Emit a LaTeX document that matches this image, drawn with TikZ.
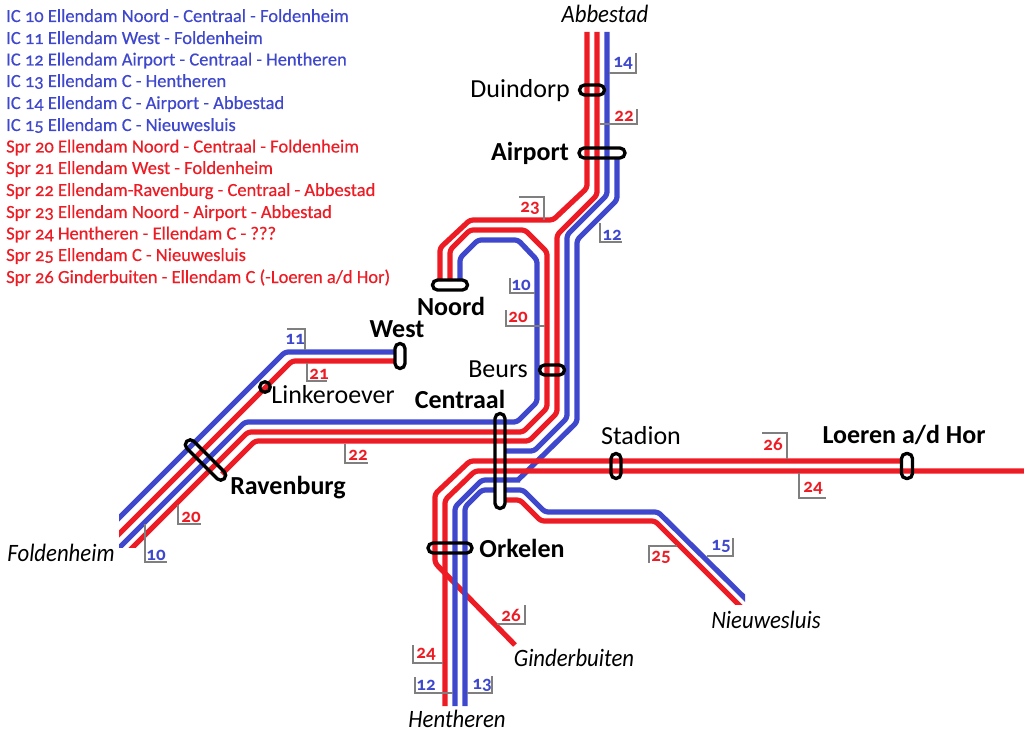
\documentclass[tikz,border=0pt]{standalone}
\usepackage{fontspec}
\setmainfont[Numbers=OldStyle]{Carlito}
\newfontfamily\legfont[Numbers=OldStyle,FakeBold=0.45]{Carlito}
\definecolor{rd}{RGB}{237,28,36}
\definecolor{bl}{RGB}{63,72,204}
\definecolor{gr}{RGB}{127,127,127}
\newcommand\itl[1]{\scalebox{0.91}[1]{#1}}
\tikzset{
 rl/.style={draw=rd,line width=5.2pt,line join=round,rounded corners=3pt},
 bll/.style={draw=bl,line width=5.2pt,line join=round,rounded corners=3pt},
 lead/.style={draw=gr,line width=1.4pt},
 sta/.style={draw=black,line width=3.3pt,rounded corners=5pt,fill=none},
 numr/.style={text=rd,font=\bfseries\fontsize{19}{19}\selectfont,inner sep=0pt},
 numb/.style={text=bl,font=\bfseries\fontsize{19}{19}\selectfont,inner sep=0pt},
 lab/.style={font=\fontsize{26}{26}\selectfont,inner sep=0pt,text=black},
 blab/.style={font=\bfseries\fontsize{26}{26}\selectfont,inner sep=0pt,text=black},
 ilab/.style={font=\itshape\fontsize{25}{25}\selectfont,inner sep=0pt,text=black},
 legb/.style={text=bl,font=\legfont\fontsize{18.5}{18}\selectfont,anchor=base west,inner sep=0pt},
 legr/.style={text=rd,font=\legfont\fontsize{18.5}{18}\selectfont,anchor=base west,inner sep=0pt},
}
\begin{document}
\begin{tikzpicture}[x=1pt,y=-1pt]
\useasboundingbox (0,0) rectangle (1024,735);
% lines towards Foldenheim, cut square by the clip
\begin{scope}
\clip (119,0) rectangle (1024,547);
\path[bll] (394,352) -- (285,352) -- (100,537);
\path[rl] (394,361) -- (292,361) -- (100,553);
\path[bll] (460,281) -- (460,258) -- (478,240) -- (518,240) -- (537,260) -- (537,402) -- (517,422) -- (245,422) -- (100,567);
\path[rl] (450,281) -- (450,250) -- (470,230) -- (525,230) -- (547,252) -- (547,408) -- (523,432) -- (248,432) -- (100,580);
\path[rl] (597,32) -- (597,195) -- (557,235) -- (557,413) -- (529,441) -- (255,441) -- (222,474);
\end{scope}
\path[rl] (587,32) -- (587,188) -- (553,220) -- (470,220) -- (440,248) -- (440,281);
\path[bll] (607,32) -- (607,195) -- (567,235) -- (567,418) -- (534,451) -- (506,451);
\path[bll] (617,158) -- (617,200) -- (577,240) -- (577,422) -- (518,480);
\path[rl] (902,461) -- (470,461) -- (435,494) -- (435,563) -- (515,645);
\path[rl] (1024,471) -- (475,471) -- (445,500) -- (445,706);
\path[bll] (520,480) -- (482,480) -- (455,507) -- (455,706);
\path[bll] (494,490) -- (482,490) -- (465,507) -- (465,706);
\begin{scope}
\clip (0,0) rectangle (745,735);
\path[bll] (760,613) -- (658,512) -- (545,512) -- (523,490) -- (506,490);
\end{scope}
\begin{scope}
\clip (0,0) rectangle (1024,604);
\path[rl] (506,500) -- (520,500) -- (541,521) -- (655,521) -- (750,616);
\end{scope}
% leaders
\draw[lead] (609,73) -- (636,73) -- (636,53);
\draw[lead] (600,124) -- (637,124) -- (637,109);
\draw[lead] (519,197) -- (544,197) -- (544,220);
\draw[lead] (600,223) -- (600,242) -- (622,242);
\draw[lead] (510,278) -- (510,293) -- (535,293);
\draw[lead] (506,310) -- (506,326) -- (545,326);
\draw[lead] (287,329) -- (305,329) -- (305,350);
\draw[lead] (307,363) -- (307,381) -- (327,381);
\draw[lead] (345,444) -- (345,463) -- (368,463);
\draw[lead] (178,505) -- (178,524) -- (201,524);
\draw[lead] (145,524) -- (145,562) -- (167,562);
\draw[lead] (762,433) -- (787,433) -- (787,459);
\draw[lead] (799,473) -- (799,498) -- (826,498);
\draw[lead] (677,546) -- (649,546) -- (649,563);
\draw[lead] (707,556) -- (733,556) -- (733,538);
\draw[lead] (497,624) -- (525,624) -- (525,605);
\draw[lead] (413,645) -- (413,663) -- (443,663);
\draw[lead] (415,677) -- (415,693) -- (453,693);
\draw[lead] (467,693) -- (492,693) -- (492,676);
% numbers
\node[numb] (n14) at (623,63) {14};
\node[numr] (n22a) at (624,116) {22};
\node[numr] (n23) at (530,208) {23};
\node[numb] (n12a) at (612,235) {12};
\node[numb] (n10a) at (521,285) {10};
\node[numr] (n20a) at (518,317) {20};
\node[numb] (n11) at (295,339) {11};
\node[numr] (n21) at (319,374) {21};
\node[numr] (n22b) at (358,455) {22};
\node[numr] (n20b) at (191,517) {20};
\node[numb] (n10b) at (156,555) {10};
\node[numr] (n26a) at (773,444) {26};
\node[numr] (n24a) at (813,488) {24};
\node[numr] (n25) at (661,557) {25};
\node[numb] (n15) at (721,546) {15};
\node[numr] (n26b) at (511,615) {26};
\node[numr] (n24b) at (426,654) {24};
\node[numb] (n12b) at (426,685) {12};
\node[numb] (n13) at (482,685) {13};
% stations
\node[sta,minimum width=25pt,minimum height=10pt] (sDuin) at (592,90) {};
\node[sta,minimum width=46pt,minimum height=10pt] (sAir) at (602,153) {};
\node[sta,minimum width=35pt,minimum height=10pt] (sNoord) at (450,285) {};
\node[sta,minimum width=25pt,minimum height=10pt] (sBeurs) at (552,370) {};
\node[sta,minimum width=10pt,minimum height=95pt] (sCen) at (500,461) {};
\node[sta,minimum width=10pt,minimum height=25pt] (sStad) at (616,466) {};
\node[sta,minimum width=11pt,minimum height=25pt] (sLoer) at (907,466) {};
\node[sta,minimum width=44pt,minimum height=10pt] (sOrk) at (450,548) {};
\node[sta,minimum width=10pt,minimum height=25pt] (sWest) at (400,356) {};
\node[sta,minimum width=53pt,minimum height=10pt,rotate=-45] (sRav) at (205.5,460) {};
\node[draw=black,line width=3.3pt,circle,minimum size=10.5pt,inner sep=0pt] (sLink) at (265,387) {};
% station names
\node[ilab,anchor=center] (tAbb) at (605,14) {\itl{Abbestad}};
\node[lab,anchor=east] (tDuin) at (570,91) {Duindorp};
\node[blab,anchor=east] (tAir) at (569,153) {Airport};
\node[blab] (tNoord) at (451,306) {Noord};
\node[blab] (tWest) at (397,329) {West};
\node[lab,anchor=east] (tBeurs) at (528,369) {Beurs};
\node[blab] (tCen) at (460,399) {Centraal};
\node[lab] (tLink) at (333,395) {Linkeroever};
\node[lab] (tStad) at (641,436) {Stadion};
\node[blab] (tLoer) at (904,435) {Loeren a/d Hor};
\node[blab] (tRav) at (288,488) {Ravenburg};
\node[blab] (tOrk) at (522,548) {Orkelen};
\node[ilab] (tFold) at (61,553) {\itl{Foldenheim}};
\node[ilab] (tNieuw) at (766,620) {\itl{Nieuwesluis}};
\node[ilab] (tGind) at (574,658) {\itl{Ginderbuiten}};
\node[ilab] (tHent) at (457,719) {\itl{Hentheren}};
% legend
\node[legb] (l1) at (6,22) {IC 10 Ellendam Noord - Centraal - Foldenheim};
\node[legb] (l2) at (6,44) {IC 11 Ellendam West - Foldenheim};
\node[legb] (l3) at (6,65.5) {IC 12 Ellendam Airport - Centraal - Hentheren};
\node[legb] (l4) at (6,87) {IC 13 Ellendam C - Hentheren};
\node[legb] (l5) at (6,109) {IC 14 Ellendam C - Airport - Abbestad};
\node[legb] (l6) at (6,131) {IC 15 Ellendam C - Nieuwesluis};
\node[legr] (l7) at (6,152.5) {Spr 20 Ellendam Noord - Centraal - Foldenheim};
\node[legr] (l8) at (6,174) {Spr 21 Ellendam West - Foldenheim};
\node[legr] (l9) at (6,196) {Spr 22 Ellendam-Ravenburg - Centraal - Abbestad};
\node[legr] (l10) at (6,218) {Spr 23 Ellendam Noord - Airport - Abbestad};
\node[legr] (l11) at (6,239.5) {Spr 24 Hentheren - Ellendam C - ???};
\node[legr] (l12) at (6,261) {Spr 25 Ellendam C - Nieuwesluis};
\node[legr] (l13) at (6,283) {Spr 26 Ginderbuiten - Ellendam C (-Loeren a/d Hor)};
\end{tikzpicture}
\end{document}
